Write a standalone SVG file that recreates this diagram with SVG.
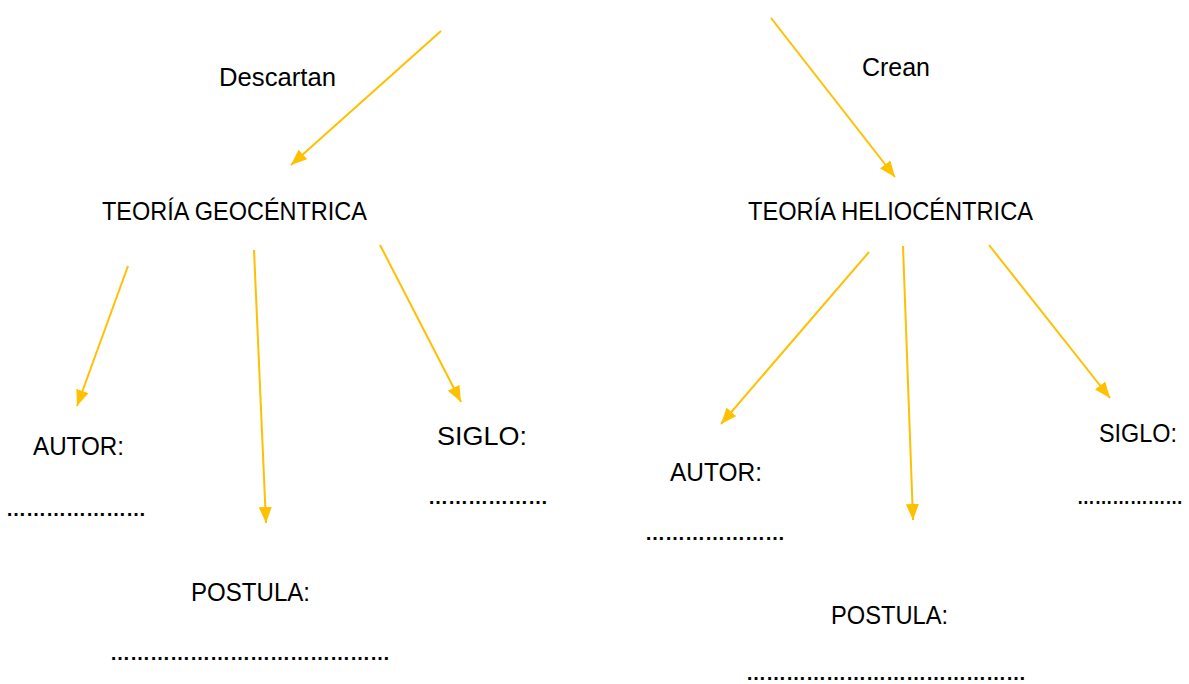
<svg xmlns="http://www.w3.org/2000/svg" width="1189" height="684" viewBox="0 0 1189 684">
<style>
.lbl{font-family:"Liberation Sans",Arial,sans-serif;font-size:25px;fill:#000}
.dots{font-family:"Liberation Sans",Arial,sans-serif;font-size:20px;font-weight:bold;fill:#000}
.arr{stroke:#FFC000;stroke-width:2;fill:none;marker-end:url(#ah)}
</style>
<defs>
<marker id="ah" markerUnits="userSpaceOnUse" markerWidth="18" markerHeight="14" refX="16" refY="6.5" orient="auto">
<path d="M0,0 L16,6.5 L0,13 z" fill="#FFC000"/>
</marker>
</defs>
<rect width="1189" height="684" fill="#fff"/>
<g id="connectors">
<line class="arr" x1="441" y1="31" x2="291" y2="165"/>
<line class="arr" x1="771" y1="18" x2="895" y2="177"/>
<line class="arr" x1="128" y1="266" x2="77" y2="406"/>
<line class="arr" x1="254" y1="250" x2="266" y2="523"/>
<line class="arr" x1="380" y1="245" x2="461" y2="402"/>
<line class="arr" x1="869" y1="252" x2="721" y2="424"/>
<line class="arr" x1="903" y1="246" x2="913" y2="520"/>
<line class="arr" x1="989" y1="245" x2="1110" y2="398"/>
</g>
<g id="label-descartan"><text class="lbl" x="219" y="86" textLength="117" lengthAdjust="spacingAndGlyphs">Descartan</text></g>
<g id="label-crean"><text class="lbl" x="862" y="76" textLength="68" lengthAdjust="spacingAndGlyphs">Crean</text></g>
<g id="node-geo"><text class="lbl" x="102" y="220" textLength="265" lengthAdjust="spacingAndGlyphs">TEORÍA GEOCÉNTRICA</text></g>
<g id="node-helio"><text class="lbl" x="748" y="220" textLength="285" lengthAdjust="spacingAndGlyphs">TEORÍA HELIOCÉNTRICA</text></g>
<g id="node-geo-autor">
<text class="lbl" x="33" y="455" textLength="91" lengthAdjust="spacingAndGlyphs">AUTOR:</text>
<text class="dots" x="6" y="516">&#8230;&#8230;&#8230;&#8230;&#8230;&#8230;&#8230;</text>
</g>
<g id="node-geo-postula">
<text class="lbl" x="191" y="601" textLength="119" lengthAdjust="spacingAndGlyphs">POSTULA:</text>
<text class="dots" x="110" y="660">&#8230;&#8230;&#8230;&#8230;&#8230;&#8230;&#8230;&#8230;&#8230;&#8230;&#8230;&#8230;&#8230;&#8230;</text>
</g>
<g id="node-geo-siglo">
<text class="lbl" x="437" y="445" textLength="90" lengthAdjust="spacingAndGlyphs">SIGLO:</text>
<text class="dots" x="428" y="504">&#8230;&#8230;&#8230;&#8230;&#8230;&#8230;</text>
</g>
<g id="node-helio-autor">
<text class="lbl" x="670" y="481" textLength="92" lengthAdjust="spacingAndGlyphs">AUTOR:</text>
<text class="dots" x="645" y="540">&#8230;&#8230;&#8230;&#8230;&#8230;&#8230;&#8230;</text>
</g>
<g id="node-helio-postula">
<text class="lbl" x="831" y="624" textLength="117" lengthAdjust="spacingAndGlyphs">POSTULA:</text>
<text class="dots" x="746" y="680">&#8230;&#8230;&#8230;&#8230;&#8230;&#8230;&#8230;&#8230;&#8230;&#8230;&#8230;&#8230;&#8230;&#8230;</text>
</g>
<g id="node-helio-siglo">
<text class="lbl" x="1099" y="442" textLength="78" lengthAdjust="spacingAndGlyphs">SIGLO:</text>
<text class="dots" x="1077" y="504" textLength="106" lengthAdjust="spacingAndGlyphs">&#8230;&#8230;&#8230;&#8230;&#8230;&#8230;</text>
</g>
</svg>
